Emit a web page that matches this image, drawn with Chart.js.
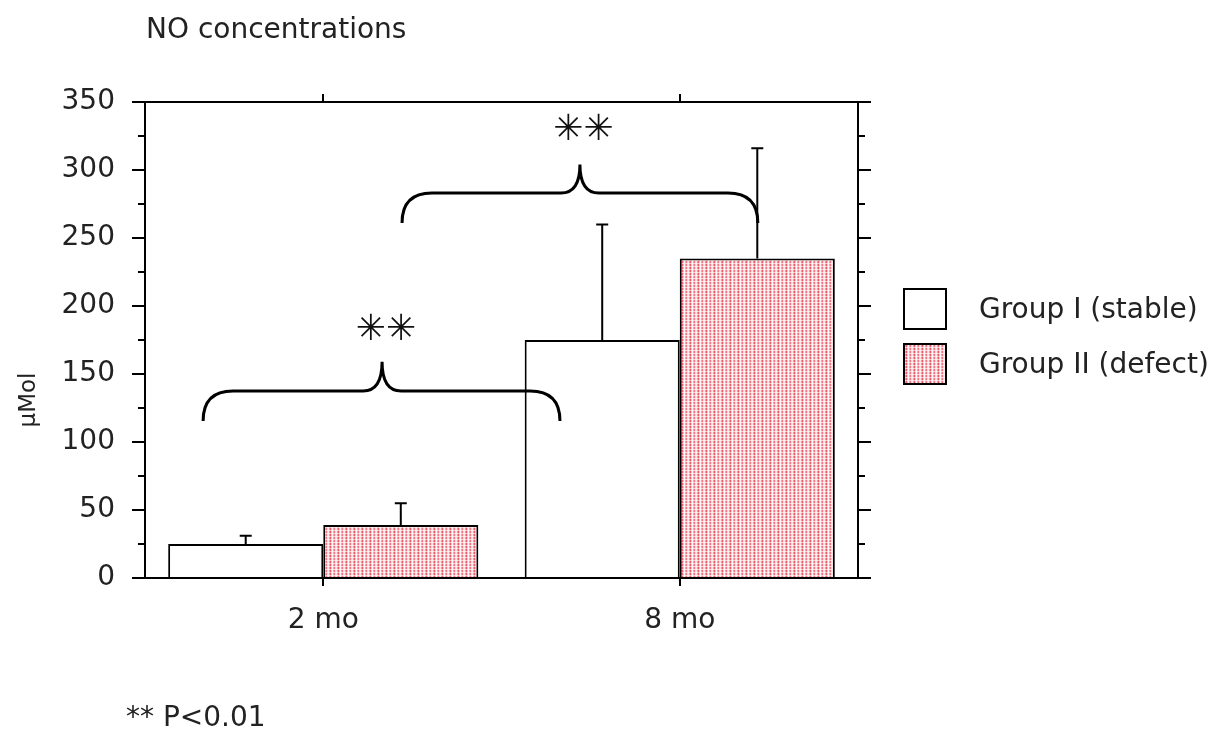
<!DOCTYPE html>
<html>
<head>
<meta charset="utf-8">
<script src="https://cdn.jsdelivr.net/npm/chart.js@4/dist/chart.umd.min.js"></script>
<style>
  body { margin: 0; background: #fff; }
  #wrap { position: relative; width: 1213px; height: 732px; font-family: "DejaVu Sans", sans-serif; color: #222; }
  #chartTitle { position: absolute; left: 146px; top: 12px; font-size: 28px; }
  #footNote { position: absolute; left: 126px; top: 700px; font-size: 28px; }
</style>
</head>
<body>
<div id="wrap">
  <canvas id="noChart" width="1213" height="732"></canvas>
  <div id="chartTitle">NO concentrations</div>
  <div id="footNote">** P&lt;0.01</div>
</div>
<script>
const CATEGORIES = ['2 mo', '8 mo'];
const SERIES_NAMES = ['Group I (stable)', 'Group II (defect)'];
const GROUP_I = [25, 175];
const GROUP_I_ERR = [6, 85];
const GROUP_II = [39, 235];
const GROUP_II_ERR = [16, 81];
const Y_MIN = 0;
const Y_MAX = 350;
const Y_MAJOR = 50;
const Y_MINOR = 25;

// significance braces, in axis units (category index, µMol)
const BRACE_FROM = [-0.337, 0.221];
const BRACE_TO = [0.664, 1.219];
const BRACE_TIP_X = [0.165, 0.72];
const BRACE_LEVEL = [137.5, 283];
const BRACE_END = [115.5, 261];
const BRACE_TIP = [159, 304];
const STAR_X = [0.176, 0.73];
const STAR_Y = [182, 329];

const FONT = '"DejaVu Sans", sans-serif';
const INK = '#222';

function makePattern() {
  const tile = document.createElement('canvas');
  tile.width = 8;
  tile.height = 6;
  const c = tile.getContext('2d');
  const cols = ['#fde6e8', '#f39aa4', '#ec5a69', '#f7bcc2', '#fff6f7', '#f4a6ae', '#ee7886', '#fad3d7'];
  cols.forEach((col, i) => {
    c.fillStyle = col;
    c.fillRect(i, 0, 1, 6);
  });
  c.fillStyle = 'rgba(255,255,255,0.6)';
  c.fillRect(0, 2, 8, 1);
  c.fillRect(0, 5, 8, 1);
  return c.createPattern(tile, 'repeat');
}

const canvas = document.getElementById('noChart');
const redPattern = makePattern();

const errorBars = {
  id: 'errorBars',
  afterDatasetsDraw(chart) {
    const ctx = chart.ctx;
    const y = chart.scales.y;
    const errs = [GROUP_I_ERR, GROUP_II_ERR];
    ctx.save();
    ctx.strokeStyle = '#000';
    ctx.lineWidth = 2;
    chart.data.datasets.forEach((ds, di) => {
      chart.getDatasetMeta(di).data.forEach((bar, i) => {
        const top = y.getPixelForValue(ds.data[i] + errs[di][i]);
        ctx.beginPath();
        ctx.moveTo(bar.x, bar.y);
        ctx.lineTo(bar.x, top);
        ctx.moveTo(bar.x - 6, top);
        ctx.lineTo(bar.x + 6, top);
        ctx.stroke();
      });
    });
    ctx.restore();
  }
};

const braces = {
  id: 'braces',
  afterDatasetsDraw(chart) {
    const ctx = chart.ctx;
    const x = chart.scales.x;
    const y = chart.scales.y;
    ctx.save();
    ctx.strokeStyle = '#000';
    ctx.lineWidth = 3;
    BRACE_FROM.forEach((from, i) => {
      const xl = x.getPixelForValue(from);
      const xr = x.getPixelForValue(BRACE_TO[i]);
      const xc = x.getPixelForValue(BRACE_TIP_X[i]);
      const yl = y.getPixelForValue(BRACE_LEVEL[i]);
      const ye = y.getPixelForValue(BRACE_END[i]);
      const yt = y.getPixelForValue(BRACE_TIP[i]);
      const r = ye - yl;
      const t = 19;
      ctx.beginPath();
      ctx.moveTo(xl, ye);
      ctx.quadraticCurveTo(xl, yl, xl + r, yl);
      ctx.lineTo(xc - t, yl);
      ctx.quadraticCurveTo(xc, yl, xc, yt);
      ctx.quadraticCurveTo(xc, yl, xc + t, yl);
      ctx.lineTo(xr - r, yl);
      ctx.quadraticCurveTo(xr, yl, xr, ye);
      ctx.stroke();

      ctx.fillStyle = '#111';
      ctx.font = 'bold 36px ' + FONT;
      ctx.textAlign = 'center';
      ctx.textBaseline = 'middle';
      ctx.fillText('\u2733\uFE0E\u2733\uFE0E', x.getPixelForValue(STAR_X[i]), y.getPixelForValue(STAR_Y[i]));
    });
    ctx.restore();
  }
};

const frame = {
  id: 'frame',
  afterDraw(chart) {
    const ctx = chart.ctx;
    const a = chart.chartArea;
    const x = chart.scales.x;
    const y = chart.scales.y;
    ctx.save();
    ctx.strokeStyle = '#000';
    ctx.lineWidth = 2;
    ctx.beginPath();
    ctx.moveTo(a.left, a.top);
    ctx.lineTo(a.left, a.bottom);
    ctx.moveTo(a.right, a.top);
    ctx.lineTo(a.right, a.bottom);
    for (let v = Y_MIN; v <= Y_MAX; v += Y_MINOR) {
      const py = Math.round(y.getPixelForValue(v));
      const len = v % Y_MAJOR === 0 ? 13 : 7;
      ctx.moveTo(a.left - len, py);
      ctx.lineTo(a.left, py);
      ctx.moveTo(a.right, py);
      ctx.lineTo(a.right + len, py);
    }
    ctx.moveTo(a.left, a.top);
    ctx.lineTo(a.right, a.top);
    ctx.moveTo(a.left, a.bottom);
    ctx.lineTo(a.right, a.bottom);
    CATEGORIES.forEach((c, i) => {
      const px = Math.round(x.getPixelForValue(i));
      ctx.moveTo(px, a.top);
      ctx.lineTo(px, a.top - 8);
      ctx.moveTo(px, a.bottom);
      ctx.lineTo(px, a.bottom + 8);
    });
    ctx.stroke();

    // y axis title
    ctx.fillStyle = INK;
    ctx.font = '23px ' + FONT;
    ctx.textAlign = 'center';
    ctx.textBaseline = 'middle';
    ctx.translate(29, 400);
    ctx.rotate(-Math.PI / 2);
    ctx.fillText('\u03BCMol', 0, 0);
    ctx.restore();

    // legend
    ctx.save();
    const boxes = [{ top: 289, fill: '#fff' }, { top: 344, fill: redPattern }];
    ctx.font = '28px ' + FONT;
    ctx.textBaseline = 'middle';
    ctx.textAlign = 'left';
    boxes.forEach((b, i) => {
      ctx.fillStyle = b.fill;
      ctx.fillRect(904, b.top, 42, 40);
      ctx.strokeStyle = '#000';
      ctx.lineWidth = 2;
      ctx.strokeRect(904, b.top, 42, 40);
      ctx.fillStyle = INK;
      ctx.fillText(SERIES_NAMES[i], 979, b.top + 22);
    });
    ctx.restore();
  }
};

new Chart(canvas, {
  type: 'bar',
  data: {
    labels: CATEGORIES,
    datasets: [
      {
        label: SERIES_NAMES[0],
        data: GROUP_I,
        backgroundColor: '#fff',
        borderColor: '#000',
        borderWidth: 2
      },
      {
        label: SERIES_NAMES[1],
        data: GROUP_II,
        backgroundColor: redPattern,
        borderColor: '#000',
        borderWidth: 2
      }
    ]
  },
  options: {
    responsive: false,
    animation: false,
    events: [],
    layout: { padding: { top: 102, right: 355, bottom: 0, left: 0 } },
    datasets: { bar: { categoryPercentage: 0.87, barPercentage: 1 } },
    plugins: { legend: { display: false }, tooltip: { enabled: false } },
    scales: {
      x: {
        grid: { display: false, drawTicks: false },
        border: { display: false },
        ticks: { color: INK, font: { family: FONT, size: 28 }, padding: 26 },
        afterFit: (scale) => { scale.height = 154; }
      },
      y: {
        min: Y_MIN,
        max: Y_MAX,
        grid: { display: false, drawTicks: false },
        border: { display: false },
        ticks: { stepSize: Y_MAJOR, color: INK, font: { family: FONT, size: 28 }, padding: 30 },
        afterFit: (scale) => { scale.width = 145; }
      }
    }
  },
  plugins: [errorBars, braces, frame]
});
</script>
</body>
</html>
